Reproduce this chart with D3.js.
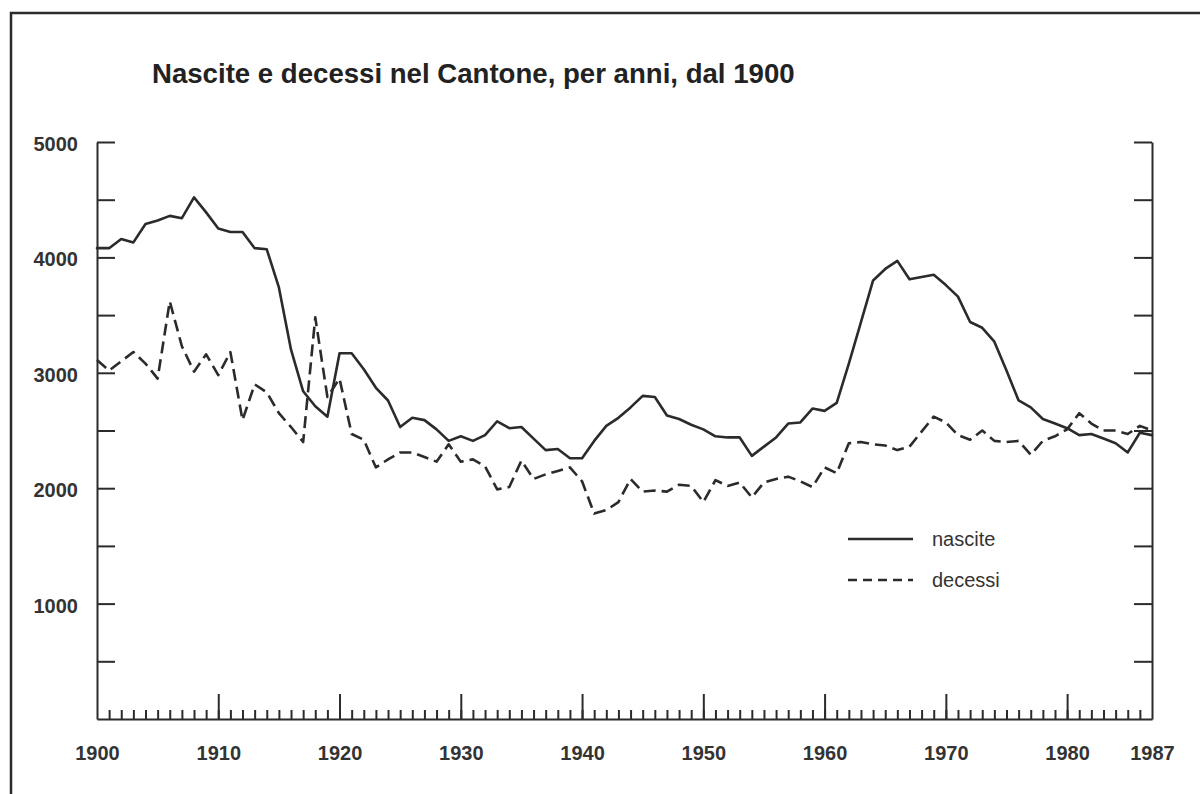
<!DOCTYPE html>
<html>
<head>
<meta charset="utf-8">
<script src="https://cdn.jsdelivr.net/npm/d3@7/dist/d3.min.js"></script>
<style>
  html, body { margin: 0; padding: 0; background: #fff; }
  svg { display: block; }
</style>
</head>
<body>
<script>
// ---- Data ----
const years = d3.range(1900, 1988);
const nascite = [
  4080, 4080, 4160, 4130, 4290, 4320, 4360, 4340, 4520, 4390,
  4250, 4220, 4220, 4080, 4070, 3740, 3200, 2840, 2710, 2620,
  3170, 3170, 3030, 2870, 2760, 2530, 2610, 2590, 2510, 2410,
  2450, 2410, 2460, 2580, 2520, 2530, 2430, 2330, 2340, 2260,
  2260, 2410, 2540, 2610, 2700, 2800, 2790, 2630, 2600, 2550,
  2510, 2450, 2440, 2440, 2280, 2360, 2440, 2560, 2570, 2690,
  2670, 2740, 3080, 3440, 3800, 3900, 3970, 3810, 3830, 3850,
  3760, 3660, 3440, 3390, 3270, 3020, 2760, 2700, 2600, 2560,
  2520, 2460, 2470, 2430, 2390, 2310, 2480, 2460
];
const decessi = [
  3110, 3020, 3100, 3180, 3080, 2950, 3620, 3230, 3010, 3160,
  2980, 3180, 2590, 2900, 2830, 2650, 2530, 2400, 3480, 2790,
  2950, 2470, 2420, 2180, 2250, 2310, 2310, 2270, 2230, 2380,
  2230, 2250, 2190, 1990, 2010, 2240, 2080, 2120, 2150, 2180,
  2060, 1780, 1810, 1880, 2080, 1970, 1980, 1970, 2030, 2020,
  1880, 2070, 2020, 2050, 1920, 2050, 2080, 2100, 2060, 2010,
  2180, 2130, 2390, 2400, 2380, 2370, 2330, 2360, 2490, 2620,
  2570, 2460, 2420, 2500, 2410, 2400, 2410, 2290, 2410, 2450,
  2510, 2650, 2560, 2500, 2500, 2470, 2540, 2500
];
const yTicks = [500, 1000, 1500, 2000, 2500, 3000, 3500, 4000, 4500, 5000];
const xLabelYears = [1900, 1910, 1920, 1930, 1940, 1950, 1960, 1970, 1980, 1987];
const xMajorYears = [1910, 1920, 1930, 1940, 1950, 1960, 1970, 1980];
const xMinorYears = d3.range(1901, 1987);
const titleText = "Nascite e decessi nel Cantone, per anni, dal 1900";
const seriesNames = ["nascite", "decessi"];

// ---- Drawing ----
const W = 1200, H = 794;
const ink = "#2b2b2b";
const svg = d3.select("body").append("svg").attr("width", W).attr("height", H);
svg.append("rect").attr("width", W).attr("height", H).attr("fill", "#fff");

// frame
svg.append("path").attr("d", "M11,794 V13 H1200")
  .attr("fill", "none").attr("stroke", ink).attr("stroke-width", 2.5);

const x = d3.scaleLinear().domain([1900, 1987]).range([97, 1152]);
const y = d3.scaleLinear().domain([0, 5000]).range([719, 142]);

// title
svg.append("text").attr("x", 152).attr("y", 83)
  .attr("font-family", "Liberation Sans, Arial, sans-serif")
  .attr("font-weight", "bold").attr("font-size", 27.6).attr("fill", "#222")
  .text(titleText);

function styleAxis(g) {
  g.selectAll("path, line").attr("stroke", ink).attr("stroke-width", 2);
  g.selectAll("text").attr("font-family", "Liberation Sans, Arial, sans-serif")
    .attr("font-size", 20).attr("font-weight", "bold").attr("fill", "#333");
}

// left axis
const gL = svg.append("g").attr("transform", `translate(${x(1900)},0)`)
  .call(d3.axisLeft(y).tickValues(yTicks).tickSize(-18).tickSizeOuter(0).tickPadding(19)
    .tickFormat(d => d % 1000 === 0 ? d : ""));
styleAxis(gL);
gL.selectAll("text").attr("dy", "0.42em");

// right axis
const gR = svg.append("g").attr("transform", `translate(${x(1987)},0)`)
  .call(d3.axisRight(y).tickValues(yTicks).tickSize(-18).tickSizeOuter(0).tickFormat(""));
styleAxis(gR);

// bottom axis: minor ticks
const gB = svg.append("g").attr("transform", `translate(0,${y(0)})`)
  .call(d3.axisBottom(x).tickValues(xMinorYears).tickSize(-9).tickSizeOuter(0).tickFormat(""));
styleAxis(gB);
// major ticks
const gM = svg.append("g").attr("transform", `translate(0,${y(0)})`)
  .call(d3.axisBottom(x).tickValues(xMajorYears).tickSize(-25).tickSizeOuter(0).tickFormat(""));
styleAxis(gM);
gM.select(".domain").remove();
// labels
const gX = svg.append("g").attr("transform", `translate(0,${y(0)})`)
  .call(d3.axisBottom(x).tickValues(xLabelYears).tickSize(0).tickPadding(27).tickFormat(d3.format("d")));
styleAxis(gX);
gX.select(".domain").remove();

// lines
const line = d3.line().x((d, i) => x(years[i])).y(d => y(d));
svg.append("path").datum(nascite).attr("d", line)
  .attr("fill", "none").attr("stroke", ink).attr("stroke-width", 2.6)
  .attr("stroke-linejoin", "round").attr("stroke-linecap", "round");
svg.append("path").datum(decessi).attr("d", line)
  .attr("fill", "none").attr("stroke", ink).attr("stroke-width", 2.6)
  .attr("stroke-dasharray", "12,6").attr("stroke-linejoin", "round");

// legend
const legY = [539, 580];
seriesNames.forEach((name, i) => {
  svg.append("line").attr("x1", 848).attr("x2", 913).attr("y1", legY[i]).attr("y2", legY[i])
    .attr("stroke", ink).attr("stroke-width", 2.4)
    .attr("stroke-dasharray", i === 1 ? "9,6" : null);
  svg.append("text").attr("x", 932).attr("y", legY[i]).attr("dy", "0.35em")
    .attr("font-family", "Liberation Sans, Arial, sans-serif")
    .attr("font-size", 20).attr("fill", "#333").text(name);
});
</script>
</body>
</html>
